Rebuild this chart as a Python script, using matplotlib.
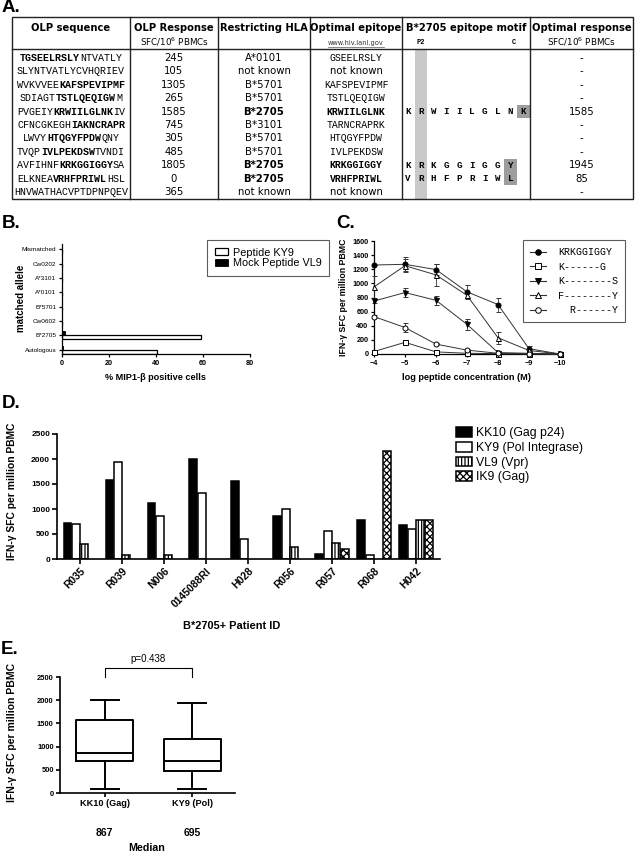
import numpy as np
import matplotlib
matplotlib.use('Agg')
import matplotlib.pyplot as plt
from matplotlib import font_manager
from matplotlib.patches import Rectangle
from matplotlib.lines import Line2D
from matplotlib.transforms import blended_transform_factory

W, H = 640, 852

_names = {f.name for f in font_manager.fontManager.ttflist}
SANS = 'Liberation Sans'
NARROW = 'Liberation Sans Narrow' if 'Liberation Sans Narrow' in _names else SANS
MONO = 'Liberation Mono'
VERD = 'DejaVu Sans'

plt.rcParams['font.family'] = [SANS, 'DejaVu Sans']
plt.rcParams['hatch.linewidth'] = 0.9

# ---------------- A. table ----------------
olp_pre = ['', 'SLYNTVATLYCVHQRIEV', 'WVKVVEE', 'SDIAGT', 'PVGEIY', 'CFNCGKEGH',
           'LWVY', 'TVQP', 'AVFIHNF', 'ELKNEA', 'HNVWATHACVPTDPNPQEV']
olp_core = ['TGSEELRSLY', '', 'KAFSPEVIPMF', 'TSTLQEQIGW', 'KRWIILGLNK', 'IAKNCRAPR',
            'HTQGYFPDW', 'IVLPEKDSW', 'KRKGGIGGY', 'VRHFPRIWL', '']
olp_post = ['NTVATLY', '', '', 'M', 'IV', '', 'QNY', 'TVNDI', 'SA', 'HSL', '']
olp_response = [245, 105, 1305, 265, 1585, 745, 305, 485, 1805, 0, 365]
restricting_hla = ['A*0101', 'not known', 'B*5701', 'B*5701', 'B*2705', 'B*3101',
                   'B*5701', 'B*5701', 'B*2705', 'B*2705', 'not known']
optimal_epitope = ['GSEELRSLY', 'not known', 'KAFSPEVIPMF', 'TSTLQEQIGW', 'KRWIILGLNK',
                   'TARNCRAPRK', 'HTQGYFPDW', 'IVLPEKDSW', 'KRKGGIGGY', 'VRHFPRIWL', 'not known']
epitope_motif = ['', '', '', '', 'KRWIILGLNK', '', '', '', 'KRKGGIGGY', 'VRHFPRIWL', '']
optimal_response = ['-', '-', '-', '-', '1585', '-', '-', '-', '1945', '85', '-']
headers = ['OLP sequence', 'OLP Response', 'Restricting HLA', 'Optimal epitope',
           'B*2705 epitope motif', 'Optimal response']

# ---------------- B. MIP1-beta ----------------
b_alleles = ['Autologous', 'B*2705', 'Cw0602', 'B*5701', 'A*0101', 'A*3101', 'Cw0202', 'Mismatched']
b_ky9 = [40.5, 59, 0, 0, 0, 0, 0, 0]
b_mock = [0.5, 1.2, 0, 0, 0, 0, 0, 0]

# ---------------- C. titration ----------------
c_logconc = [-4, -5, -6, -7, -8, -9, -10]
c_names = ['KRKGGIGGY', 'K------G', 'K--------S', 'F--------Y', '  R------Y']
c_values = [
    [1260, 1270, 1195, 880, 700, 75, 0],
    [35, 165, 30, 10, 5, 0, 0],
    [750, 870, 760, 420, 20, 10, 0],
    [950, 1250, 1120, 830, 230, 50, 0],
    [530, 375, 140, 55, 10, 5, 0],
]
c_errors = [
    [0, 100, 75, 90, 100, 40, 0],
    [15, 25, 10, 10, 5, 0, 0],
    [30, 60, 65, 80, 10, 5, 0],
    [150, 90, 160, 50, 85, 20, 0],
    [20, 70, 15, 20, 10, 5, 0],
]
c_markers = ['o', 's', 'v', '^', 'o']
c_filled = [True, False, True, False, False]

# ---------------- D. patients ----------------
d_patients = ['R035', 'R039', 'N006', '0145088RI', 'H028', 'R056', 'R057', 'R068', 'H042']
nan = np.nan
d_kk10 = [730, 1590, 1120, 2000, 1560, 870, 100, 790, 680]
d_ky9 = [700, 1950, 870, 1330, 395, 1000, 560, 85, 600]
d_vl9 = [300, 85, 85, nan, nan, 235, 330, nan, 780]
d_ik9 = [nan, nan, nan, nan, nan, nan, 195, 2160, 780]
d_labels = ['KK10 (Gag p24)', 'KY9 (Pol Integrase)', 'VL9 (Vpr)', 'IK9 (Gag)']

# ---------------- E. box plot ----------------
e_labels = ['KK10 (Gag)', 'KY9 (Pol)']
e_low = [90, 80]
e_q1 = [680, 465]
e_med = [867, 695]
e_q3 = [1570, 1165]
e_high = [2000, 1950]
e_pvalue = 'p=0.438'


fig = plt.figure(figsize=(W / 100, H / 100), dpi=100)

# full-figure pixel canvas for table and free text
axT = fig.add_axes([0, 0, 1, 1])
axT.set_xlim(0, W)
axT.set_ylim(H, 0)
axT.axis('off')


def ax_px(left, top, right, bottom):
    ax = fig.add_axes([left / W, 1 - bottom / H, (right - left) / W, (bottom - top) / H])
    ax.patch.set_alpha(0)
    return ax


def prism(ax, lw=1.0, length=3):
    for s in ('top', 'right'):
        ax.spines[s].set_visible(False)
    for s in ('left', 'bottom'):
        ax.spines[s].set_linewidth(lw)
    ax.tick_params(direction='out', length=length, width=lw, pad=1.5)


def mono_parts(xc, y, parts, size):
    cw = 0.6 * size * 100 / 72
    n = sum(len(p) for p, _ in parts)
    x = xc - n * cw / 2
    for txt, bold in parts:
        if txt:
            axT.text(x, y, txt, family=MONO, fontsize=size, ha='left', va='center',
                     fontweight='bold' if bold else 'normal')
        x += len(txt) * cw


# ---- table drawing ----
col_edges = [12, 130, 218, 310, 402, 530, 633]
col_mid = [(a + b) / 2 for a, b in zip(col_edges[:-1], col_edges[1:])]
t_top, t_head, t_bot = 17, 49, 199
row_y = [58 + 13.4 * i for i in range(len(olp_response))]
slot0, pitch = 408, 12.8

# P2 band and C-terminal boxes
axT.add_patch(Rectangle((slot0 + pitch - 6, t_head), 12, t_bot - t_head, color='#c9c9c9', lw=0))
for y, motif in zip(row_y, epitope_motif):
    if motif:
        xs = slot0 + pitch * (len(motif) - 1)
        axT.add_patch(Rectangle((xs - 6.5, y - 6.6), 13, 13.2, color='#9d9d9d', lw=0))

axT.add_patch(Rectangle((col_edges[0], t_top), col_edges[-1] - col_edges[0], t_bot - t_top,
                        fill=False, ec='#222222', lw=1.0))
for x in col_edges[1:-1]:
    axT.plot([x, x], [t_top, t_bot], color='#222222', lw=1.0)
axT.plot([col_edges[0], col_edges[-1]], [t_head, t_head], color='#222222', lw=1.0)

for xc, h in zip(col_mid, headers):
    axT.text(xc, 28, h, family=VERD, fontsize=7.2, fontweight='bold', ha='center', va='center')
axT.text(col_mid[1], 42, 'SFC/10$^6$ PBMCs', family=VERD, fontsize=6.3, ha='center', va='center')
axT.text(col_mid[5], 42, 'SFC/10$^6$ PBMCs', family=VERD, fontsize=6.3, ha='center', va='center')
axT.text(col_mid[3], 43, 'www.hiv.lanl.gov', family=VERD, fontsize=4.8, ha='center', va='center',
         color='#333333')
axT.plot([col_mid[3] - 28, col_mid[3] + 28], [46.5, 46.5], color='#555555', lw=0.5)
axT.text(slot0 + pitch, 43, 'P2', family=MONO, fontsize=5, fontweight='bold', ha='center', va='center')
axT.text(slot0 + pitch * 8.3, 43, 'C', family=MONO, fontsize=5, fontweight='bold', ha='center', va='center')

for i, y in enumerate(row_y):
    mono_parts(col_mid[0], y, [(olp_pre[i], False), (olp_core[i], True), (olp_post[i], False)], 7.2)
    axT.text(col_mid[1], y, str(olp_response[i]), family=VERD, fontsize=7.3, ha='center', va='center')
    strong = restricting_hla[i] == 'B*2705'
    axT.text(col_mid[2], y, restricting_hla[i], family=VERD, fontsize=7.3, ha='center', va='center',
             fontweight='bold' if strong else 'normal')
    if optimal_epitope[i] == 'not known':
        axT.text(col_mid[3], y, optimal_epitope[i], family=VERD, fontsize=7.3, ha='center', va='center')
    else:
        mono_parts(col_mid[3], y, [(optimal_epitope[i], strong)], 7.0)
    for k, ch in enumerate(epitope_motif[i]):
        axT.text(slot0 + pitch * k, y, ch, family=MONO, fontsize=6.6, fontweight='bold',
                 ha='center', va='center')
    axT.text(col_mid[5], y, optimal_response[i], family=VERD, fontsize=7.3, ha='center', va='center')

# panel letters
for lab, x, y in [('A.', 2, 8), ('B.', 2, 223), ('C.', 336, 223), ('D.', 2, 403), ('E.', 1, 649)]:
    axT.text(x, y, lab, fontsize=13.5, fontweight='bold', ha='left', va='center')

# ---------------- B ----------------
axB = ax_px(62, 244, 250, 354)
prism(axB, lw=0.9, length=2.5)
yb = np.arange(len(b_alleles))
hb_mock = axB.barh(yb + 0.14, b_mock, height=0.26, color='black', edgecolor='black', lw=0.6)
hb_ky9 = axB.barh(yb - 0.14, b_ky9, height=0.26, color='white', edgecolor='black', lw=0.9)
axB.set_ylim(-0.3, 7.36)
axB.set_xlim(0, 80)
axB.set_xticks([0, 20, 40, 60, 80])
axB.set_yticks(yb, b_alleles)
for t in axB.get_yticklabels():
    t.set_fontfamily(NARROW)
    t.set_fontsize(4.6)
for t in axB.get_xticklabels():
    t.set_fontfamily(NARROW)
    t.set_fontsize(5.2)
    t.set_fontweight('bold')
axT.text(155, 378, '% MIP1-β positive cells', fontsize=6.6, fontweight='bold', ha='center', va='center')
axT.text(21, 298, 'matched allele', fontsize=7, fontweight='bold', rotation=90, ha='center', va='center')
legB = fig.legend([hb_ky9, hb_mock], ['Peptide KY9', 'Mock Peptide VL9'], loc='upper left',
                  bbox_to_anchor=(207 / W, 1 - 240 / H), bbox_transform=fig.transFigure,
                  fontsize=7.8, frameon=True, fancybox=False, edgecolor='#333333',
                  handlelength=1.2, handleheight=0.6, handletextpad=0.5, labelspacing=0.05,
                  borderpad=0.7, borderaxespad=0)
legB.get_frame().set_linewidth(0.8)

# ---------------- C ----------------
axC = ax_px(374, 241, 560, 354)
prism(axC, lw=0.9, length=2.5)
c_handles = []
for ys, es, mk, filled in zip(c_values, c_errors, c_markers, c_filled):
    face = 'black' if filled else 'white'
    axC.errorbar(c_logconc, ys, yerr=es, marker=mk, ms=3.6, mfc=face, mec='black', mew=0.7,
                 color='#333333', lw=0.7, elinewidth=0.6, ecolor='#333333', capsize=1.8,
                 clip_on=False, zorder=3)
    c_handles.append(Line2D([], [], marker=mk, ms=4, mfc=face, mec='black', mew=0.7,
                            color='#333333', lw=0.8))
axC.set_xlim(-4, -10)
axC.set_ylim(0, 1600)
axC.set_xticks(c_logconc)
axC.set_yticks(np.arange(0, 1601, 200))
for t in axC.get_xticklabels() + axC.get_yticklabels():
    t.set_fontfamily(NARROW)
    t.set_fontsize(5.2)
    t.set_fontweight('bold')
axT.text(466, 378, 'log peptide concentration (M)', fontsize=6.6, fontweight='bold',
         ha='center', va='center')
axT.text(343, 297, 'IFN-γ SFC per million PBMC', fontsize=6.3, fontweight='bold', rotation=90,
         ha='center', va='center')
legC = fig.legend(c_handles, c_names, loc='upper left', bbox_to_anchor=(523 / W, 1 - 240 / H),
                  bbox_transform=fig.transFigure, prop=dict(family=MONO, size=7.2),
                  frameon=True, fancybox=False, edgecolor='#333333', handlelength=1.6,
                  handletextpad=1.2, labelspacing=0.45, borderpad=0.7, borderaxespad=0)
legC.get_frame().set_linewidth(0.8)

# ---------------- D ----------------
axD = ax_px(57, 434, 440, 559)
prism(axD, lw=1.2, length=3.5)
xd = np.arange(len(d_patients))
d_series = [d_kk10, d_ky9, d_vl9, d_ik9]
d_offsets = [-0.3, -0.1, 0.1, 0.3]
d_faces = ['black', 'white', 'white', 'white']
d_hatches = [None, None, '|||||', 'xxxxx']
d_handles = []
for vals, off, face, hatch in zip(d_series, d_offsets, d_faces, d_hatches):
    bars = axD.bar(xd + off, np.array(vals, dtype=float), width=0.19, color=face,
                   edgecolor='black', hatch=hatch, lw=1.1)
    d_handles.append(bars)
axD.set_xlim(-0.55, 8.57)
axD.set_ylim(0, 2500)
axD.set_yticks(np.arange(0, 2501, 500))
axD.set_xticks(xd)
axD.set_xticklabels(d_patients, rotation=45, ha='right', rotation_mode='anchor',
                    fontsize=7.5, fontweight='bold')
for t in axD.get_yticklabels():
    t.set_fontsize(6)
    t.set_fontweight('bold')
axT.text(232, 626, 'B*2705+ Patient ID', fontsize=7.9, fontweight='bold', ha='center', va='center')
axT.text(12, 491, 'IFN-γ SFC per million PBMC', fontsize=7.4, fontweight='bold', rotation=90,
         ha='center', va='center')
fig.legend(d_handles, d_labels, loc='upper left', bbox_to_anchor=(456 / W, 1 - 427 / H),
           bbox_transform=fig.transFigure, fontsize=8.8, frameon=False, handlelength=1.3,
           handleheight=0.85, handletextpad=0.35, labelspacing=0.22, borderpad=0, borderaxespad=0)

# ---------------- E ----------------
axE = ax_px(60, 677, 235, 793)
prism(axE, lw=1.2, length=3)
e_stats = [dict(label=l, whislo=a, q1=b, med=c, q3=d, whishi=e, fliers=[])
           for l, a, b, c, d, e in zip(e_labels, e_low, e_q1, e_med, e_q3, e_high)]
line_kw = dict(color='black', lw=1.4)
axE.bxp(e_stats, positions=[1, 2], widths=0.65, capwidths=0.32, showfliers=False,
        boxprops=line_kw, whiskerprops=line_kw, capprops=line_kw, medianprops=line_kw)
axE.set_xlim(0.49, 2.49)
axE.set_ylim(0, 2500)
axE.set_yticks(np.arange(0, 2501, 500))
axE.set_xticks([1, 2], e_labels)
for t in axE.get_xticklabels():
    t.set_fontsize(6.6)
    t.set_fontweight('bold')
for t in axE.get_yticklabels():
    t.set_fontsize(5.4)
    t.set_fontweight('bold')
axE.plot([1, 1, 2, 2], [2500, 2700, 2700, 2500], color='black', lw=0.8, clip_on=False)
axE.text(1.5, 2880, e_pvalue, fontsize=7, ha='center', va='center')
trE = blended_transform_factory(axE.transData, axT.transData)
for pos, m in zip([1, 2], e_med):
    axT.text(pos, 833, f'{m:d}', transform=trE, fontsize=7.5, fontweight='bold', ha='center', va='center')
axT.text(147, 848, 'Median', fontsize=7.7, fontweight='bold', ha='center', va='center')
axT.text(12, 733, 'IFN-γ SFC per million PBMC', fontsize=7.5, fontweight='bold', rotation=90,
         ha='center', va='center')

fig.savefig('out.png', dpi=100)
